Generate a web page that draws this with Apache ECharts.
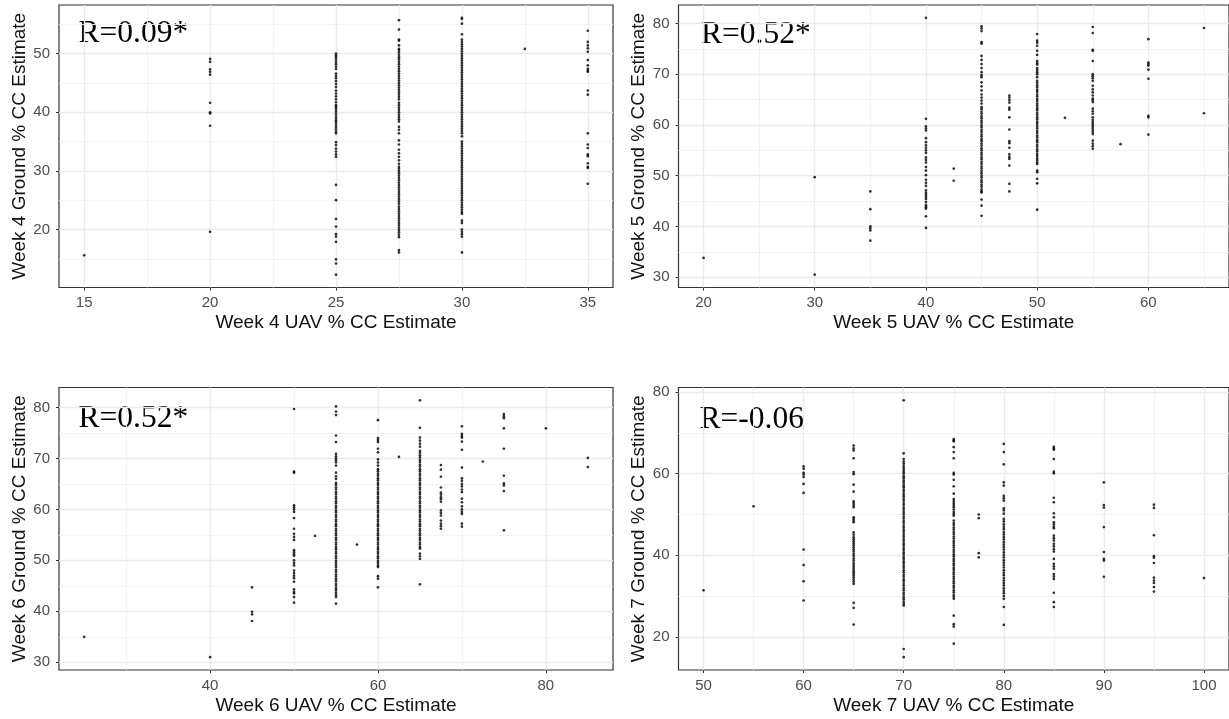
<!DOCTYPE html>
<html>
<head>
<meta charset="UTF-8">
<title>UAV vs ground canopy cover</title>
<script src="https://cdn.jsdelivr.net/npm/echarts@6/dist/echarts.min.js"></script>
<style>html,body{margin:0;padding:0;background:#fff;}</style>
</head>
<body>
<div id="box" style="width:1229px;height:719px;"></div>
<script type="text/javascript">

// week 4: UAV estimate columns and the ground estimates in each column
var week4Uav = [15, 20, 25, 27.5, 30, 32.5, 35];
var week4Ground = [
  [15.6],
  [49.1, 48.6, 47.3, 46.9, 46.4, 41.6, 40.0, 39.8, 37.7, 19.6],
  [50.0, 49.7, 49.4, 49.0, 48.6, 48.2, 47.8, 47.4, 46.6, 46.2, 45.8, 45.3, 44.8, 44.3, 43.7, 43.2, 42.7, 42.2, 41.7, 41.2, 40.9, 40.6, 40.2, 39.8, 39.4, 39.0, 38.6, 38.3, 37.9, 37.5, 37.1, 36.7, 36.4, 34.9, 34.4, 33.8, 33.3, 32.8, 32.4, 27.6, 25.0, 21.8, 20.5, 19.2, 18.8, 17.9, 14.9, 14.2, 12.3],
  [55.7, 54.1, 52.4, 52.2, 51.4, 50.8, 50.6, 50.2, 49.8, 49.4, 49.0, 48.6, 48.2, 47.8, 47.4, 47.0, 46.6, 46.2, 45.8, 45.4, 45.0, 44.6, 44.2, 43.8, 43.4, 43.0, 42.6, 42.2, 41.6, 41.2, 40.8, 40.4, 40.0, 39.6, 39.2, 38.8, 38.4, 37.5, 37.0, 36.4, 35.2, 34.5, 33.6, 33.0, 32.4, 31.8, 31.2, 30.7, 30.4, 30.0, 29.6, 29.2, 28.8, 28.4, 28.0, 27.6, 27.2, 26.8, 26.4, 26.0, 25.6, 25.2, 24.8, 24.4, 23.9, 23.5, 23.1, 22.7, 22.3, 21.9, 21.5, 21.1, 20.7, 20.3, 19.9, 19.5, 19.1, 18.7, 16.5, 16.1],
  [56.1, 55.9, 55.1, 53.3, 52.4, 52.0, 51.6, 51.2, 50.8, 50.4, 50.0, 49.6, 49.2, 48.8, 48.4, 48.0, 47.6, 47.2, 46.8, 46.4, 46.0, 45.6, 45.2, 44.8, 44.4, 44.0, 43.6, 43.2, 42.8, 42.4, 42.0, 41.6, 41.2, 40.8, 40.4, 40.0, 39.6, 39.2, 38.8, 38.4, 38.0, 37.6, 37.2, 36.8, 36.4, 35.9, 35.0, 34.6, 34.2, 33.8, 33.4, 33.0, 32.6, 32.2, 31.8, 31.4, 31.0, 30.6, 30.2, 29.8, 29.4, 29.0, 28.6, 28.2, 27.8, 27.4, 27.0, 26.6, 26.2, 25.8, 25.4, 25.0, 24.6, 24.2, 23.8, 23.4, 23.0, 22.7, 21.5, 21.1, 20.0, 19.6, 19.2, 18.8, 16.1],
  [50.8],
  [53.9, 52.0, 51.4, 50.9, 50.3, 48.9, 48.0, 47.4, 47.1, 46.9, 43.7, 43.0, 36.4, 34.5, 33.9, 32.8, 32.5, 31.3, 30.7, 30.5, 27.8]
];

// week 5
var week5Uav = [20, 30, 35, 40, 42.5, 45, 47.5, 50, 52.5, 55, 57.5, 60, 65];
var week5Ground = [
  [33.8],
  [49.7, 30.5],
  [46.9, 43.4, 40.0, 39.6, 39.2, 37.2],
  [81.1, 61.2, 59.7, 59.3, 58.9, 57.4, 56.6, 56.0, 55.5, 55.0, 54.5, 53.6, 53.1, 52.6, 51.7, 51.0, 50.1, 49.2, 48.6, 48.0, 47.1, 46.6, 46.2, 45.8, 45.4, 44.8, 44.2, 43.8, 43.5, 42.0, 39.7],
  [51.4, 49.0],
  [79.4, 79.0, 78.5, 76.3, 76.0, 73.6, 72.8, 72.0, 71.2, 70.4, 69.8, 69.4, 68.4, 67.6, 66.8, 66.0, 65.4, 64.8, 64.2, 63.5, 63.1, 62.6, 62.2, 61.7, 61.3, 60.8, 60.4, 59.9, 59.5, 59.0, 58.6, 58.1, 57.7, 57.2, 56.8, 56.3, 55.9, 55.4, 55.0, 54.5, 54.1, 53.6, 53.2, 52.7, 52.3, 51.8, 51.4, 50.9, 50.5, 50.0, 49.6, 49.1, 48.7, 48.2, 47.8, 47.3, 46.9, 46.7, 45.3, 44.1, 42.1],
  [65.8, 65.4, 64.9, 64.4, 63.4, 63.0, 61.5, 59.1, 56.8, 56.4, 55.5, 54.2, 53.7, 53.3, 52.0, 48.4, 46.9],
  [77.9, 76.6, 76.2, 75.6, 74.6, 73.8, 72.6, 72.2, 71.9, 71.2, 70.8, 70.4, 70.0, 69.4, 68.7, 68.3, 67.8, 67.4, 66.9, 66.5, 66.0, 65.6, 65.1, 64.7, 64.2, 63.8, 63.3, 62.9, 62.4, 62.0, 61.5, 61.1, 60.6, 60.2, 59.7, 59.3, 58.8, 58.4, 57.9, 57.5, 57.0, 56.6, 56.1, 55.7, 55.2, 54.8, 54.3, 53.9, 53.4, 53.0, 52.6, 52.3, 51.0, 50.7, 49.4, 48.5, 43.3],
  [61.4],
  [79.3, 78.1, 74.8, 74.6, 72.6, 70.0, 69.6, 69.2, 68.7, 67.7, 67.0, 66.4, 65.8, 65.2, 64.9, 64.5, 63.2, 62.7, 62.2, 61.5, 61.0, 60.6, 60.2, 59.8, 59.4, 59.0, 58.6, 58.2, 56.9, 56.3, 55.8, 55.3],
  [56.2],
  [76.9, 72.3, 72.0, 71.7, 70.9, 69.1, 61.8, 61.5, 58.1],
  [79.1, 62.3]
];

// week 6
var week6Uav = [25, 40, 45, 50, 52.5, 55, 57.5, 60, 62.5, 65, 67.5, 70, 72.5, 75, 80, 85];
var week6Ground = [
  [35.0],
  [31.0],
  [44.7, 39.9, 39.4, 38.1],
  [79.7, 67.4, 67.2, 60.8, 60.4, 60.0, 59.5, 58.3, 56.2, 55.2, 54.6, 54.0, 52.0, 51.6, 51.2, 50.9, 50.0, 49.5, 49.0, 48.0, 47.5, 47.0, 46.5, 45.8, 44.3, 43.8, 43.5, 42.8, 41.7],
  [54.8],
  [80.2, 79.2, 78.5, 74.5, 73.2, 70.9, 70.4, 70.0, 69.6, 69.2, 68.6, 67.2, 66.5, 66.0, 65.2, 64.8, 64.3, 63.9, 63.4, 63.0, 62.5, 62.1, 61.6, 61.2, 60.7, 60.3, 59.8, 59.4, 58.9, 58.5, 58.0, 57.6, 57.1, 56.7, 56.2, 55.8, 55.3, 54.9, 54.4, 54.0, 53.5, 53.1, 52.6, 52.2, 51.7, 51.3, 50.8, 50.4, 49.9, 49.5, 49.0, 48.6, 48.1, 47.7, 47.2, 46.8, 46.3, 45.9, 45.4, 45.0, 44.5, 44.1, 43.6, 43.2, 42.8, 41.5],
  [53.1],
  [77.5, 74.0, 73.6, 73.2, 71.9, 71.2, 69.8, 69.2, 68.6, 67.9, 67.5, 67.0, 66.6, 66.1, 65.7, 65.2, 64.8, 64.3, 63.9, 63.4, 63.0, 62.5, 62.1, 61.6, 61.2, 60.7, 60.3, 59.8, 59.4, 58.9, 58.5, 58.0, 57.6, 57.1, 56.7, 56.2, 55.8, 55.3, 54.9, 54.4, 54.0, 53.5, 53.1, 52.6, 52.2, 51.7, 51.3, 50.8, 50.4, 49.9, 49.5, 49.0, 48.7, 46.9, 46.4, 44.7],
  [70.3],
  [81.4, 76.0, 74.1, 73.5, 72.9, 72.3, 71.5, 71.1, 70.6, 70.2, 69.7, 69.3, 68.8, 68.4, 67.9, 67.5, 67.0, 66.6, 66.1, 65.7, 65.2, 64.8, 64.3, 63.9, 63.4, 63.0, 62.5, 62.1, 61.6, 61.2, 60.7, 60.3, 59.8, 59.4, 58.9, 58.5, 58.0, 57.6, 57.1, 56.7, 56.2, 55.8, 55.3, 54.9, 54.4, 54.0, 53.5, 53.1, 52.6, 52.3, 51.3, 50.8, 50.3, 45.3],
  [68.7, 67.8, 66.4, 64.3, 63.3, 62.9, 62.4, 62.0, 61.5, 59.8, 59.3, 58.8, 57.8, 57.2, 56.7, 56.2],
  [76.3, 74.8, 74.4, 74.1, 73.3, 71.7, 68.2, 66.1, 65.6, 65.0, 64.5, 63.9, 63.4, 62.1, 61.4, 60.6, 60.0, 59.5, 59.1, 57.2, 56.6],
  [69.4],
  [78.7, 78.3, 77.9, 75.9, 71.9, 66.6, 65.1, 64.7, 63.6, 55.9],
  [75.9],
  [70.1, 68.3]
];

// week 7
var week7Uav = [50, 55, 60, 65, 70, 75, 77.5, 80, 85, 90, 95, 100];
var week7Ground = [
  [31.4],
  [52.0],
  [61.8, 61.2, 60.2, 59.8, 59.2, 57.5, 55.3, 41.4, 37.6, 33.6, 28.9],
  [66.9, 66.2, 65.7, 63.8, 60.4, 59.9, 57.3, 55.6, 53.2, 52.8, 52.3, 51.8, 49.3, 48.9, 48.5, 48.1, 45.6, 45.0, 44.4, 43.9, 43.4, 42.9, 42.4, 41.9, 41.4, 40.9, 40.3, 39.8, 39.2, 38.7, 38.1, 37.6, 37.1, 36.6, 36.1, 35.6, 35.1, 34.6, 34.0, 33.5, 33.0, 28.3, 27.1, 23.0],
  [78.0, 65.0, 63.6, 63.0, 62.5, 61.9, 61.4, 60.9, 60.4, 60.0, 59.4, 58.9, 58.3, 57.8, 57.2, 56.7, 56.1, 55.6, 55.0, 54.5, 53.9, 53.4, 52.8, 52.3, 51.7, 51.2, 50.6, 50.1, 49.5, 49.0, 48.4, 47.9, 47.3, 46.8, 46.2, 45.7, 45.1, 44.6, 44.0, 43.5, 42.9, 42.4, 41.8, 41.3, 40.7, 40.2, 39.6, 39.1, 38.5, 38.0, 37.4, 36.9, 36.3, 35.8, 35.2, 34.7, 34.1, 33.6, 33.0, 32.5, 31.9, 31.4, 30.8, 30.3, 29.7, 29.2, 28.6, 28.1, 27.7, 17.0, 15.0],
  [68.5, 68.2, 67.9, 66.5, 65.3, 63.8, 60.2, 59.8, 58.5, 56.9, 55.1, 53.8, 53.3, 52.8, 52.3, 51.8, 51.2, 50.6, 50.1, 49.7, 48.5, 47.9, 47.4, 46.8, 46.3, 45.7, 45.2, 44.6, 44.1, 43.5, 43.0, 42.4, 41.9, 41.3, 40.8, 40.2, 39.7, 39.1, 38.6, 38.0, 37.5, 36.9, 36.4, 35.8, 35.3, 34.7, 34.2, 33.6, 33.1, 32.5, 32.0, 31.4, 30.9, 30.3, 29.8, 29.3, 25.2, 23.1, 22.5, 18.3],
  [50.0, 49.1, 40.5, 39.5],
  [67.3, 65.3, 62.3, 57.9, 57.1, 54.6, 54.0, 53.4, 51.5, 51.0, 50.2, 48.9, 48.3, 47.6, 47.0, 46.4, 45.7, 45.1, 44.5, 43.9, 43.2, 42.6, 42.0, 41.4, 40.7, 40.1, 39.5, 38.8, 38.2, 37.6, 37.0, 36.3, 35.7, 35.1, 34.4, 33.8, 33.2, 32.6, 31.9, 31.3, 30.7, 30.0, 29.3, 27.3, 22.9],
  [66.6, 66.2, 65.9, 63.6, 60.5, 60.1, 54.1, 53.0, 50.3, 49.3, 48.1, 47.6, 47.0, 46.6, 44.8, 44.2, 43.6, 42.8, 42.2, 41.5, 40.9, 39.1, 37.9, 37.3, 36.7, 35.4, 34.8, 34.2, 30.8, 28.5, 27.3],
  [57.9, 52.3, 51.7, 46.9, 40.8, 39.1, 38.7, 34.7],
  [52.4, 51.6, 44.9, 39.8, 39.4, 38.1, 34.5, 33.8, 33.2, 32.2, 31.1],
  [34.4]
];

// tick labels (major) and minor grid positions
var week4XTicks = [15, 20, 25, 30, 35], week4XMinor = [17.5, 22.5, 27.5, 32.5];
var week4YTicks = [20, 30, 40, 50], week4YMinor = [15, 25, 35, 45, 55];
var week5XTicks = [20, 30, 40, 50, 60], week5XMinor = [25, 35, 45, 55, 65];
var week5YTicks = [30, 40, 50, 60, 70, 80], week5YMinor = [35, 45, 55, 65, 75];
var week6XTicks = [40, 60, 80], week6XMinor = [30, 50, 70];
var week6YTicks = [30, 40, 50, 60, 70, 80], week6YMinor = [35, 45, 55, 65, 75];
var week7XTicks = [50, 60, 70, 80, 90, 100], week7XMinor = [55, 65, 75, 85, 95];
var week7YTicks = [20, 40, 60, 80], week7YMinor = [30, 50, 70];

var corrLabels = ['R=0.09*', 'R=0.52*', 'R=0.52*', 'R=-0.06'];

var panels = [
  {week: 4, uav: week4Uav, ground: week4Ground, xt: week4XTicks, xm: week4XMinor, yt: week4YTicks, ym: week4YMinor, left: 59, top: 5},
  {week: 5, uav: week5Uav, ground: week5Ground, xt: week5XTicks, xm: week5XMinor, yt: week5YTicks, ym: week5YMinor, left: 678.5, top: 5},
  {week: 6, uav: week6Uav, ground: week6Ground, xt: week6XTicks, xm: week6XMinor, yt: week6YTicks, ym: week6YMinor, left: 59, top: 387.5},
  {week: 7, uav: week7Uav, ground: week7Ground, xt: week7XTicks, xm: week7XMinor, yt: week7YTicks, ym: week7YMinor, left: 678.5, top: 387.5}
];
var textPos = [[78.5, 18], [701, 19], [78.5, 403], [699.5, 404]];

var sans = 'Liberation Sans, Arial, sans-serif';

// ggplot style: 5% padding on each side of the data range
function padded(lo, hi) {
  var d = (hi - lo) * 0.05;
  return [lo - d, hi + d];
}

var grids = [], xAxes = [], yAxes = [], series = [], graphics = [];
var minorX = [], minorY = [];

panels.forEach(function (p, i) {
  var pts = [];
  var yLo = Infinity, yHi = -Infinity;
  p.uav.forEach(function (x, c) {
    p.ground[c].forEach(function (y) {
      pts.push([x, y]);
      if (y < yLo) yLo = y;
      if (y > yHi) yHi = y;
    });
  });
  var xr = padded(p.uav[0], p.uav[p.uav.length - 1]);
  var yr = padded(yLo, yHi);

  grids.push({
    left: p.left, top: p.top, width: 554, height: 282.5,
    show: true, borderColor: '#333333', borderWidth: 1.2, backgroundColor: 'transparent'
  });

  xAxes.push({
    gridIndex: i, type: 'value', min: xr[0], max: xr[1],
    name: 'Week ' + p.week + ' UAV % CC Estimate',
    nameLocation: 'middle', nameGap: 26,
    nameTextStyle: {fontSize: 19, color: '#111', fontFamily: sans},
    axisLine: {show: false},
    axisTick: {show: true, length: 3, customValues: p.xt, lineStyle: {color: '#333'}},
    axisLabel: {customValues: p.xt, margin: 8, fontSize: 15, color: '#4d4d4d', fontFamily: sans},
    splitLine: {show: true, lineStyle: {color: '#ebebeb', width: 1.4}}
  });
  minorX.push({
    gridIndex: i, type: 'value', min: xr[0], max: xr[1],
    axisLine: {show: false}, axisLabel: {show: false},
    axisTick: {show: false, customValues: p.xm},
    splitLine: {show: true, lineStyle: {color: '#f1f1f1', width: 0.9}}
  });

  yAxes.push({
    gridIndex: i, type: 'value', min: yr[0], max: yr[1],
    name: 'Week ' + p.week + ' Ground % CC Estimate',
    nameLocation: 'middle', nameGap: 30,
    nameTextStyle: {fontSize: 19, color: '#111', fontFamily: sans},
    axisLine: {show: false},
    axisTick: {show: true, length: 3, customValues: p.yt, lineStyle: {color: '#333'}},
    axisLabel: {customValues: p.yt, margin: 9, fontSize: 15, color: '#4d4d4d', fontFamily: sans},
    splitLine: {show: true, lineStyle: {color: '#ebebeb', width: 1.4}}
  });
  minorY.push({
    gridIndex: i, type: 'value', min: yr[0], max: yr[1],
    axisLine: {show: false}, axisLabel: {show: false},
    axisTick: {show: false, customValues: p.ym},
    splitLine: {show: true, lineStyle: {color: '#f1f1f1', width: 0.9}}
  });

  series.push({
    type: 'scatter', xAxisIndex: i, yAxisIndex: i,
    data: pts, symbol: 'circle', symbolSize: 2.7,
    itemStyle: {color: '#000'}, silent: true
  });

  graphics.push({
    type: 'text', left: textPos[i][0], top: textPos[i][1],
    style: {text: corrLabels[i], font: '31.5px "Liberation Serif", "Times New Roman", serif', fill: '#000'}
  });
});

var mychart = echarts.init(document.getElementById('box'), null, {renderer: 'canvas'});
mychart.setOption({
  animation: false,
  backgroundColor: '#fff',
  grid: grids,
  xAxis: xAxes.concat(minorX),
  yAxis: yAxes.concat(minorY),
  series: series,
  graphic: graphics
});
</script>
</body>
</html>
